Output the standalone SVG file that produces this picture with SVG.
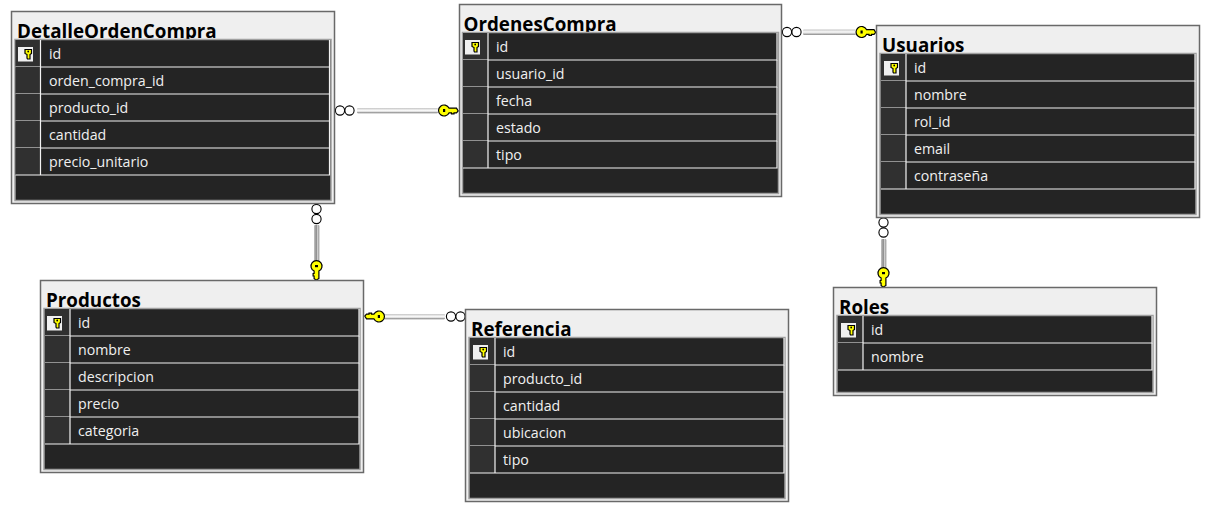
<svg xmlns="http://www.w3.org/2000/svg" width="1222" height="512" viewBox="0 0 1222 512">
<style>
.outer{fill:#efefef;stroke:#696969;stroke-width:1.5}
.panel{fill:#242424;stroke:#a0a0a0;stroke-width:1.5}
.sel{fill:#303030}
.rl{stroke:#f2f2f2;stroke-width:1.2;fill:none}
.title{font:bold 18.8px "Open Sans","Noto Sans",sans-serif;fill:#000}
.col{font:14.2px "Open Sans","Noto Sans",sans-serif;fill:#f0f0f0}
.ball{fill:#fff;stroke:#000;stroke-width:1.1}
.h{fill:url(#gh)}
.v{fill:url(#gv)}
.k{fill:#ffff00;stroke:#000;stroke-width:1.2}
</style>
<defs>
<linearGradient id="gh" x1="0" y1="0" x2="0" y2="1"><stop offset="0" stop-color="#c4c4c4"/><stop offset="0.45" stop-color="#fafafa"/><stop offset="0.7" stop-color="#dcdcdc"/><stop offset="1" stop-color="#666"/></linearGradient>
<linearGradient id="gv" x1="0" y1="0" x2="1" y2="0"><stop offset="0" stop-color="#c4c4c4"/><stop offset="0.45" stop-color="#8c8c8c"/><stop offset="0.7" stop-color="#d8d8d8"/><stop offset="1" stop-color="#808080"/></linearGradient>
<g id="pk">
<rect x="0" y="0" width="15" height="14.500" fill="#f0f0f0"/>
<path class="k" d="M7 2.500h6.500v4l-1.500 1v4.500h-2.500l-0.500-1v-3.500l-2-1z"/>
<circle cx="10.200" cy="4.500" r="0.900" fill="#000"/>
</g>
<path id="relkey" class="k" d="M5 -2.400A5.500 5.500 0 1 0 5 2.400H7.500V3.400H10V2.400H12.500L14.200 0.400L12.500 -2.400Z"/>
<g id="row"><rect class="sel" x="0" y="0" width="25" height="27"/><path class="rl" d="M25 0V27M0 27H314V0"/></g>
<g id="kk"><use href="#relkey"/><rect x="-1" y="-1.500" width="2.200" height="3" fill="#000"/></g>
</defs>
<g id="connectors">
<g id="c1"><circle class="ball" cx="340" cy="110.500" r="4.600"/><circle class="ball" cx="349.500" cy="110.500" r="4.600"/><rect class="h" x="357" y="108" width="81" height="5.300" rx="1"/><use href="#kk" transform="translate(444 110.500)"/></g>
<g id="c2"><circle class="ball" cx="316.500" cy="209" r="4.600"/><circle class="ball" cx="316.500" cy="219" r="4.600"/><rect class="v" x="314" y="225" width="5.300" height="36" rx="1"/><use href="#kk" transform="translate(316.500 266) rotate(90)"/></g>
<g id="c3"><circle class="ball" cx="451" cy="316.500" r="4.600"/><circle class="ball" cx="460.500" cy="316.500" r="4.600"/><rect class="h" x="384" y="314" width="61" height="5.300" rx="1"/><use href="#kk" transform="translate(379 316.500) rotate(180)"/></g>
<g id="c4"><circle class="ball" cx="787" cy="32" r="4.600"/><circle class="ball" cx="796.500" cy="32" r="4.600"/><rect class="h" x="803" y="29.500" width="53" height="5.300" rx="1"/><use href="#kk" transform="translate(861.500 32)"/></g>
<g id="c5"><circle class="ball" cx="883.500" cy="222.500" r="4.600"/><circle class="ball" cx="883.500" cy="232.500" r="4.600"/><rect class="v" x="881" y="239" width="5.300" height="29" rx="1"/><use href="#kk" transform="translate(883.500 273) rotate(90)"/></g>
</g>
<g id="DetalleOrdenCompra" transform="translate(11 11)">
<rect class="outer" x="0.500" y="0.500" width="323" height="192"/>
<text class="title" x="6" y="27">DetalleOrdenCompra</text>
<rect class="panel" x="4" y="28.500" width="316" height="161"/>
<use href="#row" x="4.500" y="29"/><use href="#row" x="4.500" y="56"/><use href="#row" x="4.500" y="83"/><use href="#row" x="4.500" y="110"/><use href="#row" x="4.500" y="137"/>
<use href="#pk" x="7" y="36"/>
<text class="col" x="38" y="48">id</text><text class="col" x="38" y="75">orden_compra_id</text><text class="col" x="38" y="102">producto_id</text><text class="col" x="38" y="129">cantidad</text><text class="col" x="38" y="156">precio_unitario</text>
</g>
<g id="OrdenesCompra" transform="translate(459 4)">
<rect class="outer" x="0.500" y="0.500" width="322" height="192"/>
<text class="title" x="4.500" y="27">OrdenesCompra</text>
<rect class="panel" x="3.500" y="28.500" width="316" height="161"/>
<use href="#row" x="4" y="29"/><use href="#row" x="4" y="56"/><use href="#row" x="4" y="83"/><use href="#row" x="4" y="110"/><use href="#row" x="4" y="137"/>
<use href="#pk" x="6" y="36"/>
<text class="col" x="37" y="48">id</text><text class="col" x="37" y="75">usuario_id</text><text class="col" x="37" y="102">fecha</text><text class="col" x="37" y="129">estado</text><text class="col" x="37" y="156">tipo</text>
</g>
<g id="Usuarios" transform="translate(876 25)">
<rect class="outer" x="0.500" y="0.500" width="323" height="192"/>
<text class="title" x="6" y="27">Usuarios</text>
<rect class="panel" x="4" y="28.500" width="316" height="161"/>
<use href="#row" x="5" y="29"/><use href="#row" x="5" y="56"/><use href="#row" x="5" y="83"/><use href="#row" x="5" y="110"/><use href="#row" x="5" y="137"/>
<use href="#pk" x="8" y="36"/>
<text class="col" x="38" y="48">id</text><text class="col" x="38" y="75">nombre</text><text class="col" x="38" y="102">rol_id</text><text class="col" x="38" y="129">email</text><text class="col" x="38" y="156">contraseña</text>
</g>
<g id="Productos" transform="translate(40 280)">
<rect class="outer" x="0.500" y="0.500" width="323" height="192"/>
<text class="title" x="6" y="27">Productos</text>
<rect class="panel" x="4" y="28.500" width="316" height="161"/>
<use href="#row" x="5" y="29"/><use href="#row" x="5" y="56"/><use href="#row" x="5" y="83"/><use href="#row" x="5" y="110"/><use href="#row" x="5" y="137"/>
<use href="#pk" x="7" y="36"/>
<text class="col" x="38" y="48">id</text><text class="col" x="38" y="75">nombre</text><text class="col" x="38" y="102">descripcion</text><text class="col" x="38" y="129">precio</text><text class="col" x="38" y="156">categoria</text>
</g>
<g id="Referencia" transform="translate(465 309)">
<rect class="outer" x="0.500" y="0.500" width="323" height="192"/>
<text class="title" x="6" y="27">Referencia</text>
<rect class="panel" x="4" y="28.500" width="316" height="161"/>
<use href="#row" x="5" y="29"/><use href="#row" x="5" y="56"/><use href="#row" x="5" y="83"/><use href="#row" x="5" y="110"/><use href="#row" x="5" y="137"/>
<use href="#pk" x="8" y="36"/>
<text class="col" x="38" y="48">id</text><text class="col" x="38" y="75">producto_id</text><text class="col" x="38" y="102">cantidad</text><text class="col" x="38" y="129">ubicacion</text><text class="col" x="38" y="156">tipo</text>
</g>
<g id="Roles" transform="translate(833 287)">
<rect class="outer" x="0.500" y="0.500" width="323" height="108"/>
<text class="title" x="6" y="27">Roles</text>
<rect class="panel" x="4" y="28.500" width="316" height="77"/>
<use href="#row" x="5" y="29"/><use href="#row" x="5" y="56"/>
<use href="#pk" x="8" y="36"/>
<text class="col" x="38" y="48">id</text><text class="col" x="38" y="75">nombre</text>
</g>
</svg>
